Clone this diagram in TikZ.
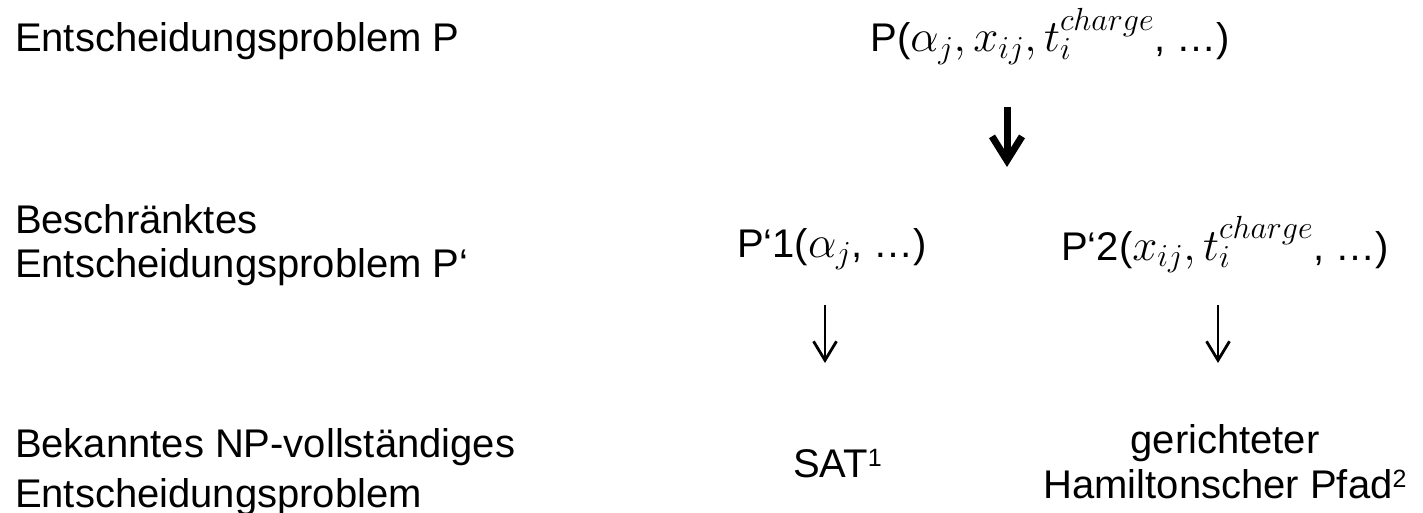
\RequirePackage{fix-cm}
\documentclass[tikz,border=0pt]{standalone}
\usepackage{fontspec}
\setmainfont{Liberation Sans}
\usetikzlibrary{arrows.meta}
\DeclareMathSizes{40}{45}{32}{24}
\newcommand{\fnsup}[1]{\raisebox{11pt}{\fontsize{25}{25}\selectfont #1}}
\tikzset{
  lbl/.style={font=\fontsize{40}{44}\selectfont, inner sep=0pt, outer sep=0pt},
  bigarrow/.style={line width=7pt, -{Straight Barb[length=24pt,width=30pt,line width=7pt]}},
  thinarrow/.style={line width=2.8pt, -{Straight Barb[length=19pt,width=23pt,line width=2.8pt]}}
}
\begin{document}
\begin{tikzpicture}[x=1pt,y=-1pt]
\useasboundingbox (0,0) rectangle (1423,513);
% left labels (base anchor = baseline of the last line)
\node[lbl, anchor=base west] (l1) at (15,52) {Entscheidungsproblem P};
\node[lbl, anchor=base west, align=left, font=\fontsize{40}{44}\selectfont] (l2) at (15,277) {Beschränktes\\Entscheidungsproblem P‘};
\node[lbl, anchor=base west, align=left, font=\fontsize{40}{50}\selectfont] (l3) at (15,507) {Bekanntes NP-vollständiges\\Entscheidungsproblem};
% right column
\node[lbl, anchor=base] (p) at (1050,52) {P($\alpha_j,x_{ij},t_i^{charge}$, …)};
\node[lbl, anchor=base] (p1) at (832,257) {P‘1($\alpha_j$, …)};
\node[lbl, anchor=base] (p2) at (1225,260) {P‘2($x_{ij},t_i^{charge}$, …)};
\node[lbl, anchor=base west] (sat) at (793,477) {SAT\fnsup{1}};
\node[lbl, anchor=base, align=center, font=\fontsize{40}{45}\selectfont] (ham) at (1225,498) {gerichteter\\Hamiltonscher Pfad\fnsup{2}};
% arrows
\coordinate (a0s) at (1007,107);
\coordinate (a0e) at (1007,167);
\coordinate (a1s) at (825,305);
\coordinate (a1e) at (825,363);
\coordinate (a2s) at (1218,305);
\coordinate (a2e) at (1218,363);
\draw[bigarrow] (a0s) -- (a0e);
\draw[thinarrow] (a1s) -- (a1e);
\draw[thinarrow] (a2s) -- (a2e);
\end{tikzpicture}
\end{document}
